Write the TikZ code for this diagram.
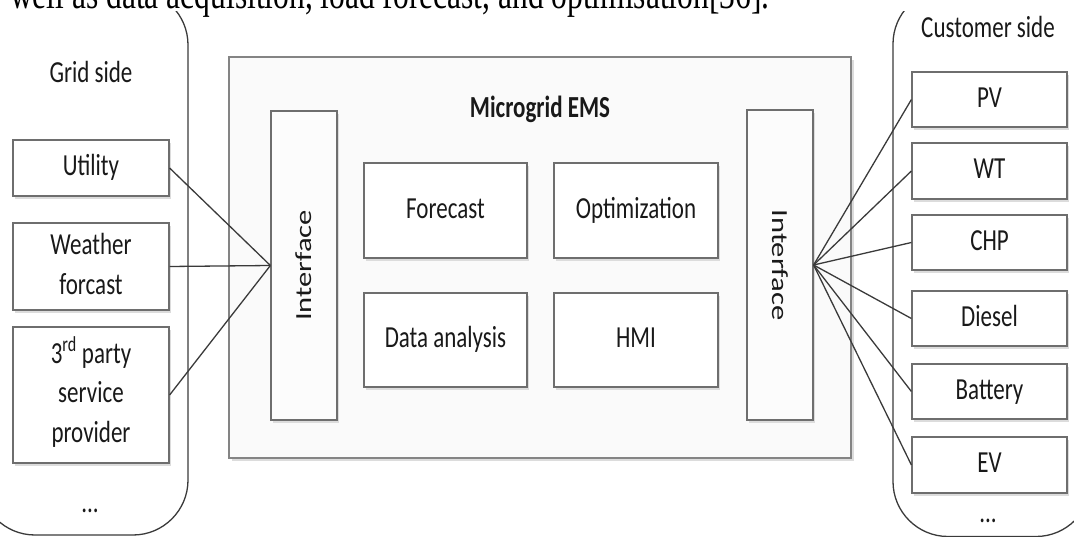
\documentclass[tikz,border=0pt]{standalone}
\usepackage{fontspec}
\setmainfont{Carlito}
\newfontfamily\timesf{Liberation Serif}
\usepackage{graphicx}
\usetikzlibrary{shadows}
\definecolor{bordergray}{HTML}{6E6E6E}
\definecolor{linegray}{HTML}{3A3A3A}
\definecolor{emsfill}{HTML}{FAFAFA}
\definecolor{ifill}{HTML}{FCFCFC}
\definecolor{shadowgray}{HTML}{DCDCDC}
\newcommand{\vtext}[1]{\scalebox{1}[1.33]{\begin{tabular}{@{}c@{}}#1\end{tabular}}}
\newcommand{\vrot}[2]{\scalebox{1}[1.33]{\rotatebox{#1}{#2}}}
\begin{document}
\begin{tikzpicture}[x=1pt,y=-1pt,
  every node/.style={font=\fontsize{23}{30}\selectfont, text=black!90},
  box/.style={draw=bordergray, line width=1.2pt, fill=white, inner sep=0pt,
    drop shadow={shadow xshift=2pt, shadow yshift=-3pt, fill=shadowgray, opacity=1}},
  emsbox/.style={draw=bordergray!85, line width=1.2pt, fill=emsfill, inner sep=0pt},
  plain/.style={inner sep=0pt},
  conn/.style={draw=linegray, line width=1.3pt},
  cont/.style={draw=linegray, line width=1.3pt, rounded corners=55pt}]
\useasboundingbox (0,0) rectangle (1074,537);
\clip (0,0) rectangle (1074,537);
% side containers
\begin{scope}
\clip (0,12) rectangle (1074,537);
\draw[cont] (-20,-10) rectangle (188,535);
\draw[cont] (893,-11) rectangle (1091,536.5);
\end{scope}
% EMS (shadow drawn separately)
\fill[shadowgray] (232,60) rectangle (853.5,461);
\node[emsbox, minimum width=622pt, minimum height=401pt] (ems) at (540,257.5) {};
\node[plain] (title) at (540,110) {\vtext{\textbf{Microgrid EMS}}};
\node[box, fill=ifill, minimum width=66pt, minimum height=309pt] (li) at (304,265.5) {\vrot{90}{Interface}};
\node[box, fill=ifill, minimum width=66pt, minimum height=310pt] (ri) at (780,265) {\vrot{-90}{Interface}};
\node[box, minimum width=163pt, minimum height=95pt] (fc) at (445.5,210.5) {\vtext{Forecast}};
\node[box, minimum width=164pt, minimum height=95pt] (opt) at (636,210.5) {\vtext{Optimization}};
\node[box, minimum width=163pt, minimum height=94pt] (da) at (445.5,340) {\vtext{Data analysis}};
\node[box, minimum width=164pt, minimum height=94pt] (hmi) at (636,340) {\vtext{HMI}};
% grid side
\node[plain] (gs) at (91,75) {\vtext{Grid side}};
\node[box, minimum width=156pt, minimum height=56pt] (util) at (91,168) {\vtext{Utility}};
\node[box, minimum width=156pt, minimum height=87pt] (wf) at (91,266.5) {\vtext{Weather\\forcast}};
\node[box, minimum width=156pt, minimum height=136pt] (tp) at (91,395) {\vtext{3\textsuperscript{rd} party\\service\\provider}};
\node[plain] (gdots) at (90,505) {\vtext{...}};
% customer side
\node[plain] (cs) at (988,30) {\vtext{Customer side}};
\node[box, minimum width=155pt, minimum height=55pt] (pv) at (989.5,99.5) {\vtext{PV}};
\node[box, minimum width=155pt, minimum height=56pt] (wt) at (989.5,171) {\vtext{WT}};
\node[box, minimum width=155pt, minimum height=55pt] (chp) at (989.5,242.5) {\vtext{CHP}};
\node[box, minimum width=155pt, minimum height=55pt] (dsl) at (989.5,318.5) {\vtext{Diesel}};
\node[box, minimum width=155pt, minimum height=55pt] (bat) at (989.5,391.5) {\vtext{Battery}};
\node[box, minimum width=155pt, minimum height=56pt] (ev) at (989.5,465) {\vtext{EV}};
\node[plain] (cdots) at (988,515) {\vtext{...}};
% connectors
\foreach \n in {util,wf,tp} \draw[conn] (\n.east) -- (li.west);
\foreach \n in {pv,wt,chp,dsl,bat,ev} \draw[conn] (ri.east) -- (\n.west);
% cropped text line at top
\node[anchor=base west, inner sep=0pt, text=black, font=\timesf\fontsize{31.5}{36}\selectfont] (toptext) at (10,9) {\scalebox{1}[1.33]{well as data acquisition, load forecast, and optimisation[36].}};
\end{tikzpicture}
\end{document}
